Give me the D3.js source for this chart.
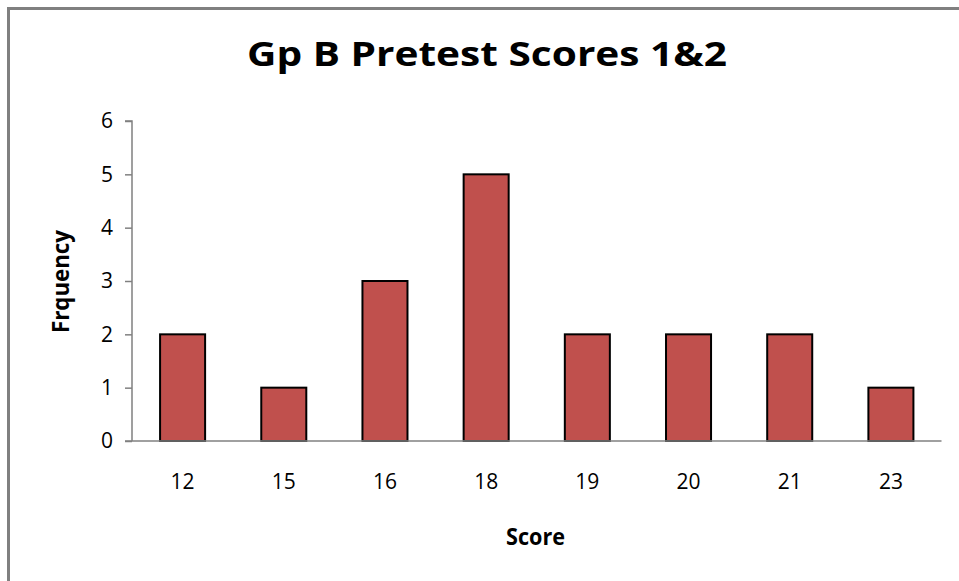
<!DOCTYPE html>
<html>
<head>
<meta charset="utf-8">
<script src="https://cdn.jsdelivr.net/npm/d3@7"></script>
<style>
  html, body { margin: 0; padding: 0; background: #fff; }
  svg { display: block; }
</style>
</head>
<body>
<svg id="chart" width="959" height="581"></svg>
<script>
const categories = ["12", "15", "16", "18", "19", "20", "21", "23"];
const frequency = [2, 1, 3, 5, 2, 2, 2, 1];
const yTicks = [0, 1, 2, 3, 4, 5, 6];
const titleText = "Gp B Pretest Scores 1&2";
const xTitle = "Score";
const yTitle = "Frquency";

const svg = d3.select("#chart");
const W = 959, H = 581;
const FONT = "'Open Sans', 'Noto Sans', sans-serif";

svg.append("rect").attr("width", W).attr("height", H).attr("fill", "#fff");
// outer chart border (extends past right/bottom edges)
svg.append("rect")
  .attr("x", 8.5).attr("y", 8.5)
  .attr("width", W + 20).attr("height", H + 20)
  .attr("fill", "none").attr("stroke", "#808080").attr("stroke-width", 3);

const plot = { left: 132, right: 941.5, top: 121, bottom: 441 };

const x = d3.scaleBand().domain(categories)
  .range([plot.left, plot.right]).paddingInner(0.555).paddingOuter(0.2775);
const y = d3.scaleLinear().domain([0, 6]).range([plot.bottom, plot.top]);

// bars
svg.append("g").selectAll("rect").data(categories).join("rect")
  .attr("x", d => x(d))
  .attr("y", (d, i) => y(frequency[i]))
  .attr("width", x.bandwidth())
  .attr("height", (d, i) => y(0) - y(frequency[i]))
  .attr("fill", "#C0504D")
  .attr("stroke", "#000").attr("stroke-width", 2);

// y axis
const yAxis = d3.axisLeft(y).tickValues(yTicks).tickSize(7).tickPadding(12).tickFormat(d3.format("d"));
const gy = svg.append("g").attr("transform", `translate(${plot.left},0)`).call(yAxis);
gy.select(".domain").attr("stroke", "#808080").attr("stroke-width", 1.5).attr("d", `M-7,${plot.top}H0V${plot.bottom}`);
gy.selectAll(".tick line").attr("stroke", "#808080").attr("stroke-width", 1.5);
gy.selectAll(".tick text").attr("font-family", FONT).attr("font-size", 21).attr("fill", "#000");

// x axis
const xAxis = d3.axisBottom(x).tickSize(0).tickPadding(33);
const gx = svg.append("g").attr("transform", `translate(0,${plot.bottom})`).call(xAxis);
gx.select(".domain").attr("stroke", "#808080").attr("stroke-width", 1.5).attr("d", `M${plot.left - 7},0H${plot.right}`);
gx.selectAll(".tick text").attr("font-family", FONT).attr("font-size", 21).attr("fill", "#000");

// title
svg.append("text")
  .attr("x", 487).attr("y", 66)
  .attr("text-anchor", "middle")
  .attr("font-family", FONT).attr("font-weight", "bold").attr("font-size", 34)
  .attr("textLength", 480).attr("lengthAdjust", "spacingAndGlyphs")
  .text(titleText);

// x title
svg.append("text")
  .attr("x", 535.5).attr("y", 545)
  .attr("text-anchor", "middle")
  .attr("font-family", FONT).attr("font-weight", "bold").attr("font-size", 23)
  .attr("textLength", 59).attr("lengthAdjust", "spacingAndGlyphs")
  .text(xTitle);

// y title
svg.append("text")
  .attr("transform", "translate(69,281.5) rotate(-90)")
  .attr("text-anchor", "middle")
  .attr("font-family", FONT).attr("font-weight", "bold").attr("font-size", 23)
  .attr("textLength", 103).attr("lengthAdjust", "spacingAndGlyphs")
  .text(yTitle);
</script>
</body>
</html>
